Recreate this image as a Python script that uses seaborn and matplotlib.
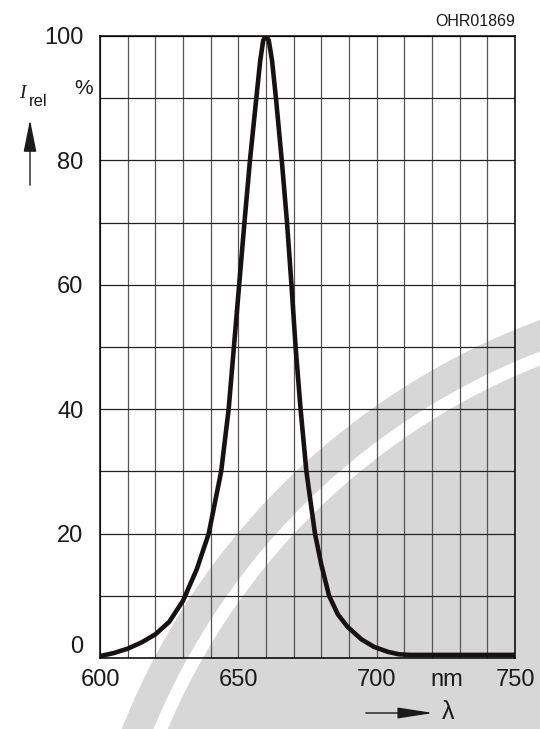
import numpy as np
import pandas as pd
import matplotlib
matplotlib.use("Agg")
import matplotlib.pyplot as plt
from matplotlib.patches import Ellipse
import seaborn as sns

# relative spectral emission
wavelength_nm = [600, 605, 610, 615, 620, 625, 630, 635, 639.3, 643.8, 646.5, 648.4,
                 650.3, 652.2, 654.2, 656.5, 657.9, 659, 660, 661, 662.2, 663.6,
                 665.7, 667.6, 669.2, 670.7, 672.5, 674.6, 677.7, 680, 682.8, 686,
                 689.5, 694.5, 699, 704, 708, 712, 750]
rel_intensity = [0.3, 0.8, 1.5, 2.5, 3.8, 5.8, 9.2, 14.3, 20, 30, 40, 50,
                 60, 70, 80, 90, 96, 99.3, 100, 99.3, 96, 90,
                 80, 70, 60, 50, 40, 30, 20, 15, 10, 7,
                 5, 3, 1.8, 1.0, 0.6, 0.5, 0.5]

x_labels = [600, 650, 700, 750]
y_labels = [0, 20, 40, 60, 80, 100]
x_grid = np.arange(600, 751, 10)
y_grid = np.arange(0, 101, 10)

df = pd.DataFrame({"wl": wavelength_nm, "irel": rel_intensity})

sns.set_style("white")
FONT = ["Liberation Sans Narrow", "Liberation Sans", "DejaVu Sans"]
plt.rcParams["font.family"] = FONT

W, H = 540, 729
fig = plt.figure(figsize=(W / 100, H / 100), dpi=100)

def fx(px):
    return px / W

def fy(py):
    return 1 - py / H

# light grey watermark disc in the background
cx, cy, R = 787, 991, 715
fig.patches.append(Ellipse((fx(cx), fy(cy)), 2 * R / W, 2 * R / H,
                           transform=fig.transFigure, facecolor="#d7d7d7",
                           edgecolor="none", zorder=-5))
fig.patches.append(Ellipse((fx(cx), fy(cy)), 2 * (R - 36) / W, 2 * (R - 36) / H,
                           transform=fig.transFigure, facecolor="none",
                           edgecolor="white", linewidth=9.5, zorder=-4))

ax = fig.add_axes([fx(100), fy(658), fx(515) - fx(100), fy(36) - fy(658)])
ax.set_facecolor("none")

sns.lineplot(data=df, x="wl", y="irel", ax=ax, color="#161212",
             linewidth=3.3, sort=False, zorder=5)

ax.set_xlim(600, 750)
ax.set_ylim(0, 100)
ax.set_xticks(x_labels)
ax.set_yticks(y_labels)
ax.set_xticks(x_grid, minor=True)
ax.set_yticks(y_grid, minor=True)
ax.tick_params(which="both", length=0)
ax.tick_params(axis="x", pad=8, labelsize=17, labelcolor="#1a1a1a")
ax.tick_params(axis="y", pad=12, labelsize=17, labelcolor="#1a1a1a")
ax.set_xlabel("")
ax.set_ylabel("")
ax.get_yticklabels()[0].set_va("bottom")

ax.grid(axis="x", which="both", color="#555555", linewidth=0.9)
ax.grid(axis="y", which="both", color="#222222", linewidth=0.9)
for sp in ax.spines.values():
    sp.set_color("black")
    sp.set_linewidth(1.1)

# unit labels
ax.text(725.4, -1.8, "nm", ha="center", va="top", fontsize=17, color="#1a1a1a")
fig.text(fx(84), fy(88), "%", ha="center", va="center", fontsize=15, color="#1a1a1a")

# I_rel with upward arrow
fig.text(fx(22), fy(93), "I", ha="center", va="center", fontsize=14,
         family=["Liberation Serif", "DejaVu Serif"], style="italic", color="#1a1a1a")
fig.text(fx(38), fy(102), "rel", ha="center", va="center", fontsize=12, color="#1a1a1a")
ax.annotate("", xy=(fx(30), fy(117)), xytext=(fx(30), fy(188)),
            xycoords="figure fraction", textcoords="figure fraction",
            arrowprops=dict(arrowstyle="-|>,head_length=1.0,head_width=0.2",
                            mutation_scale=20, lw=1.0, color="#1a1a1a"))

# lambda with rightward arrow
ax.annotate("", xy=(fx(436), fy(713)), xytext=(fx(363), fy(713)),
            xycoords="figure fraction", textcoords="figure fraction",
            arrowprops=dict(arrowstyle="-|>,head_length=1.1,head_width=0.17",
                            mutation_scale=20, lw=1.0, color="#1a1a1a"))
fig.text(fx(448), fy(712), "λ", ha="center", va="center", fontsize=18, color="#1a1a1a")

fig.text(fx(515), fy(22), "OHR01869", ha="right", va="center", fontsize=11.5, color="#1a1a1a")

fig.savefig("out.png", dpi=100)
